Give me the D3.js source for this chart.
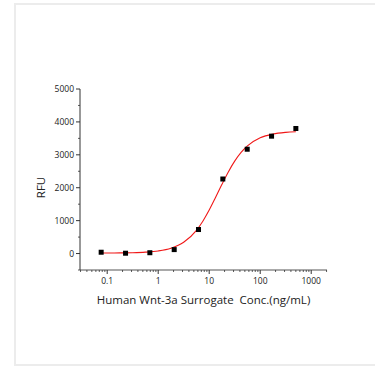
<!DOCTYPE html>
<html>
<head>
<meta charset="utf-8">
<script src="https://cdn.jsdelivr.net/npm/d3@7"></script>
<style>
  body { margin: 0; background: #fff; }
  svg { display: block; font-family: "Open Sans", "DejaVu Sans", sans-serif; }
</style>
</head>
<body>
<div class="chart"></div>
<script>
// measured points (3-fold dilution series)
var concentrations = [0.0762, 0.229, 0.686, 2.06, 6.17, 18.5, 55.6, 167, 500];
var rfu = [40, 10, 25, 120, 730, 2265, 3170, 3567, 3800];

// fitted curve
var curveConc = [0.0762, 0.1, 0.178, 0.316, 0.562, 1, 1.78, 3.16, 5.62, 7.5, 10, 13.3, 17.8, 23.7, 31.6, 42.2, 56.2, 100, 178, 316, 500];
var curveRfu = [16, 17, 20, 26, 42, 78, 161, 342, 706, 983, 1321, 1701, 2104, 2479, 2807, 3072, 3271, 3516, 3631, 3682, 3701];

var xTicks = [0.1, 1, 10, 100, 1000];
var yTicks = [0, 1000, 2000, 3000, 4000, 5000];

var W = 375, H = 368;
// plot box (note: "top" is reserved on window, so use a margin object)
var plot = { left: 80, right: 327, top: 89, bottom: 270 };

var svg = d3.select('.chart').append('svg')
  .attr('width', W)
  .attr('height', H);

// light frame around the figure
svg.append('rect')
  .attr('x', 15).attr('y', 4)
  .attr('width', W + 10).attr('height', 361)
  .attr('fill', 'none')
  .attr('stroke', '#ececec')
  .attr('stroke-width', 2);

var x = d3.scaleLog().domain([0.0293, 2040]).range([plot.left, plot.right]);
var y = d3.scaleLinear().domain([-500, 5000]).range([plot.bottom, plot.top]);

var axisColor = '#333';

// x axis with minor ticks
var minorX = [];
[0.01, 0.1, 1, 10, 100, 1000].forEach(function(dec) {
  for (var k = 2; k <= 9; k++) {
    var v = dec * k;
    if (v > x.domain()[0] && v < x.domain()[1]) minorX.push(v);
  }
});

var gx = svg.append('g')
  .attr('transform', 'translate(0,' + plot.bottom + ')');
gx.append('line')
  .attr('x1', plot.left).attr('x2', plot.right)
  .attr('stroke', '#555').attr('stroke-width', 1);
gx.selectAll('.minor').data(minorX).enter().append('line')
  .attr('x1', function(d) { return x(d); })
  .attr('x2', function(d) { return x(d); })
  .attr('y1', 0).attr('y2', 2)
  .attr('stroke', axisColor).attr('stroke-width', 0.8);
gx.selectAll('.major').data(xTicks).enter().append('line')
  .attr('x1', function(d) { return x(d); })
  .attr('x2', function(d) { return x(d); })
  .attr('y1', 0).attr('y2', 4)
  .attr('stroke', axisColor).attr('stroke-width', 1);
gx.selectAll('text').data(xTicks).enter().append('text')
  .attr('x', function(d) { return x(d); })
  .attr('y', 14)
  .attr('text-anchor', 'middle')
  .attr('font-size', 8.5)
  .attr('fill', '#222')
  .text(function(d) { return d; });

// y axis with minor ticks
var minorY = [-500, 500, 1500, 2500, 3500, 4500];
var gy = svg.append('g')
  .attr('transform', 'translate(' + plot.left + ',0)');
gy.append('line')
  .attr('y1', plot.top).attr('y2', plot.bottom)
  .attr('stroke', axisColor).attr('stroke-width', 1);
gy.selectAll('.minor').data(minorY).enter().append('line')
  .attr('y1', function(d) { return y(d); })
  .attr('y2', function(d) { return y(d); })
  .attr('x1', 0).attr('x2', -2)
  .attr('stroke', axisColor).attr('stroke-width', 0.8);
gy.selectAll('.major').data(yTicks).enter().append('line')
  .attr('y1', function(d) { return y(d); })
  .attr('y2', function(d) { return y(d); })
  .attr('x1', 0).attr('x2', -4)
  .attr('stroke', axisColor).attr('stroke-width', 1);
gy.selectAll('text').data(yTicks).enter().append('text')
  .attr('x', -6)
  .attr('y', function(d) { return y(d); })
  .attr('dy', '0.35em')
  .attr('text-anchor', 'end')
  .attr('font-size', 8.5)
  .attr('fill', '#222')
  .text(function(d) { return d; });

// fitted curve
var line = d3.line()
  .x(function(d, i) { return x(curveConc[i]); })
  .y(function(d) { return y(d); })
  .curve(d3.curveMonotoneX);

svg.append('path')
  .datum(curveRfu)
  .attr('d', line)
  .attr('fill', 'none')
  .attr('stroke', '#f01818')
  .attr('stroke-width', 1.1);

// data points
svg.selectAll('.pt').data(rfu).enter().append('rect')
  .attr('x', function(d, i) { return x(concentrations[i]) - 2.5; })
  .attr('y', function(d) { return y(d) - 2.5; })
  .attr('width', 5).attr('height', 5)
  .attr('fill', '#000');

// axis titles
svg.append('text')
  .attr('x', (plot.left + plot.right) / 2)
  .attr('y', 304)
  .attr('text-anchor', 'middle')
  .attr('font-size', 11.5)
  .attr('fill', '#222')
  .style('white-space', 'pre')
  .text('Human Wnt-3a Surrogate  Conc.(ng/mL)');

svg.append('text')
  .attr('transform', 'translate(45,' + ((plot.top + plot.bottom) / 2 + 8) + ') rotate(-90)')
  .attr('text-anchor', 'middle')
  .attr('font-size', 11.5)
  .attr('fill', '#222')
  .text('RFU');
</script>
</body>
</html>
